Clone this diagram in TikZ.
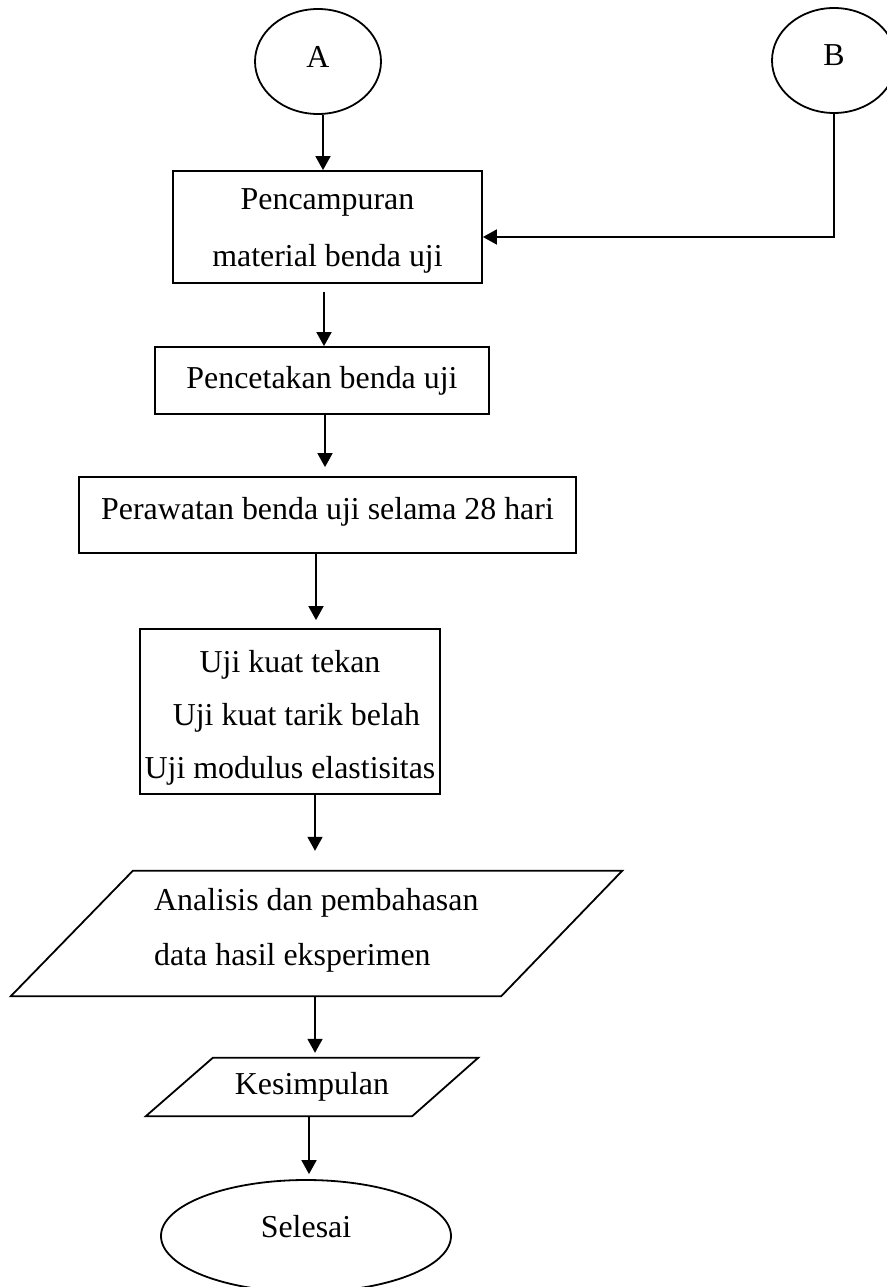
\documentclass[tikz,border=0pt]{standalone}
\usepackage{fontspec}
\setmainfont{Liberation Serif}
\usetikzlibrary{shapes.geometric,arrows.meta,calc}
\begin{document}
\begin{tikzpicture}[x=1pt,y=-1pt,
  every node/.style={font=\fontsize{31.9}{55}\selectfont},
  line/.style={line width=1.8pt},
  arr/.style={line width=1.8pt,-{Triangle[length=14pt,width=15pt]}},
  box/.style={draw,line width=1.8pt,rectangle,inner sep=0pt,align=center},
  oval/.style={draw,line width=1.8pt,ellipse,inner sep=0pt},
  area/.style={inner sep=0pt}
]
\useasboundingbox (0,0) rectangle (886,1287);

% start connectors
\node[oval,minimum width=126pt,minimum height=105pt,text depth=10pt] (A) at (318,61.5) {A};
\node[oval,minimum width=124pt,minimum height=105pt,text depth=10pt] (B) at (834,60.5) {B};

% process boxes
\node[box,minimum width=309pt,minimum height=112pt,font=\fontsize{31.9}{57}\selectfont] (b1) at (327.5,227) {\rule{0pt}{29pt}Pencampuran\\material benda uji};
\node[box,minimum width=334pt,minimum height=67pt] (b2) at (322,380.5) {Pencetakan benda uji};
\node[box,minimum width=497pt,minimum height=76pt,text height=22pt,text depth=13pt] (b3) at (327.5,515) {Perawatan benda uji selama 28 hari};
\node[box,minimum width=300pt,minimum height=165pt,font=\fontsize{31.9}{53}\selectfont] (b4) at (290,711.5) {\rule{0pt}{34pt}Uji kuat tekan\\\hspace*{0.4em}Uji kuat tarik belah\\Uji modulus elastisitas};

% data parallelogram
\node[area,minimum width=611pt,minimum height=125pt] (p1) at (316.5,933.5) {};
\draw[line] ($(p1.north west)+(122,0)$) -- (p1.north east) -- ($(p1.south east)+(-121,0)$) -- (p1.south west) -- cycle;
\node[anchor=base west,inner sep=0pt] (p1a) at (154,910) {Analisis dan pembahasan};
\node[anchor=base west,inner sep=0pt] (p1b) at (154,965) {data hasil eksperimen};

% conclusion parallelogram
\node[area,minimum width=332pt,minimum height=58pt] (k) at (312,1087) {Kesimpulan};
\draw[line] ($(k.north west)+(67,0)$) -- (k.north east) -- ($(k.south east)+(-66,0)$) -- (k.south west) -- cycle;

% end
\node[oval,minimum width=290pt,minimum height=112pt,text depth=20pt] (sel) at (306,1236) {Selesai};

% connectors
\draw[arr] ($(A.south)+(5,0)$) -- ($(A.south |- b1.north)+(5,0)$);
\draw[arr] (B.south) |- ($(b1.east)+(0,10)$);
\draw[arr,shorten <=8pt] ($(b1.south)+(-3.5,0)$) -- ($(b1.south |- b2.north)+(-3.5,0)$);
\draw[arr,shorten >=9pt] ($(b2.south)+(3,0)$) -- ($(b2.south |- b3.north)+(3,0)$);
\draw[arr,shorten >=8pt] ($(b3.south)+(-11.5,0)$) -- ($(b3.south |- b4.north)+(-11.5,0)$);
\draw[arr,shorten >=20pt] ($(b4.south)+(25,0)$) -- ($(b4.south |- p1.north)+(25,0)$);
\draw[arr,shorten >=5pt] ($(p1.south)+(-1.5,0)$) -- ($(p1.south |- k.north)+(-1.5,0)$);
\draw[arr,shorten >=5pt] ($(k.south)+(-3,0)$) -- ($(k.south |- sel.north)+(-3,0)$);
\end{tikzpicture}
\end{document}
